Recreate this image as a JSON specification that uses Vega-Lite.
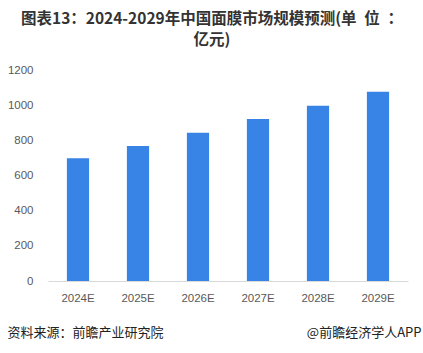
{
  "$schema": "https://vega.github.io/schema/vega-lite/v6.json",
  "autosize": {"type": "none"},
  "width": 360,
  "height": 211,
  "padding": {"left": 48, "top": 70, "right": 15, "bottom": 72},
  "background": "white",
  "config": {
    "view": {"stroke": null},
    "font": "Noto Sans CJK SC"
  },
  "title": {
    "text": ["图表13：2024-2029年中国面膜市场规模预测(单\u2002位\u2002：", "亿元)"],
    "font": "Noto Sans CJK SC",
    "fontSize": 15.5,
    "fontWeight": "bold",
    "color": "#333333",
    "anchor": "middle",
    "dx": -16,
    "offset": 16,
    "lineHeight": 21
  },
  "data": {
    "values": [
      {"year": "2024E", "value": 698},
      {"year": "2025E", "value": 768},
      {"year": "2026E", "value": 843},
      {"year": "2027E", "value": 921},
      {"year": "2028E", "value": 996},
      {"year": "2029E", "value": 1076}
    ]
  },
  "mark": {"type": "bar", "color": "#3784E6"},
  "encoding": {
    "x": {
      "field": "year",
      "type": "nominal",
      "sort": null,
      "scale": {"paddingInner": 0.63, "paddingOuter": 0.315},
      "axis": {
        "labelAngle": 0,
        "labelFontSize": 11.5,
        "labelColor": "#595959",
        "labelFont": "Liberation Sans",
        "ticks": false,
        "labelPadding": 11,
        "domainColor": "#d9d9d9",
        "grid": false,
        "title": "资料来源：前瞻产业研究院",
        "titleFont": "Noto Sans CJK SC",
        "titleFontSize": 13,
        "titleFontWeight": "normal",
        "titleColor": "#222222",
        "titleAnchor": "start",
        "titleAlign": "left",
        "titleBaseline": "middle",
        "titleX": -41,
        "titleY": 51
      }
    },
    "y": {
      "field": "value",
      "type": "quantitative",
      "scale": {"domain": [0, 1200]},
      "axis": {
        "values": [0, 200, 400, 600, 800, 1000, 1200],
        "format": "d",
        "labelFontSize": 11.5,
        "labelColor": "#595959",
        "labelFont": "Liberation Sans",
        "ticks": false,
        "domain": false,
        "grid": false,
        "labelPadding": 15,
        "title": "@前瞻经济学人APP",
        "titleFont": "Noto Sans CJK SC",
        "titleFontSize": 13,
        "titleFontWeight": "normal",
        "titleColor": "#222222",
        "titleAngle": 0,
        "titleAlign": "right",
        "titleBaseline": "middle",
        "titleX": 373,
        "titleY": 262
      }
    }
  }
}
